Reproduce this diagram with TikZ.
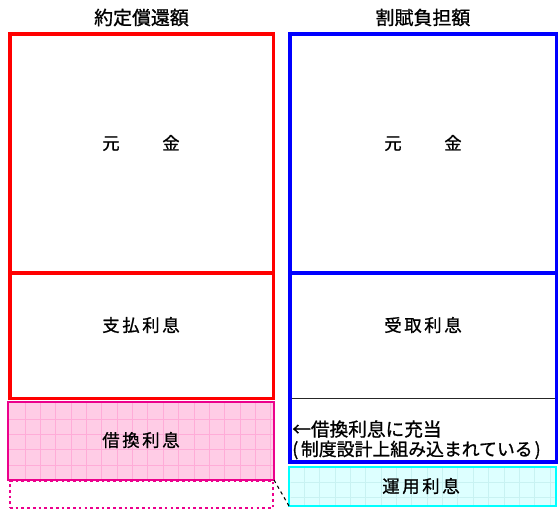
\documentclass[tikz,border=0pt]{standalone}
\usepackage{fontspec}
\setmainfont{Noto Sans CJK JP}[FakeBold=1.0]
\definecolor{pinkfill}{RGB}{255,204,230}
\definecolor{pinkgrid}{RGB}{255,172,216}
\definecolor{cyanfill}{RGB}{221,255,255}
\definecolor{cyangrid}{RGB}{200,242,242}
\definecolor{cyanedge}{RGB}{0,255,255}
\tikzset{
  box/.style={rectangle, inner sep=0pt, outer sep=0pt, anchor=north west},
  redbox/.style={box, draw=red, line width=2.6pt},
  bluebox/.style={box, draw=blue, line width=2.6pt},
  pinkbox/.style={box, draw=magenta, line width=1.8pt, fill=pinkfill},
  cyanbox/.style={box, draw=cyanedge, line width=2.2pt, fill=cyanfill},
  dotbox/.style={box, draw=magenta, line width=2pt, dash pattern=on 2pt off 2.3pt},
  ttl/.style={inner sep=0pt, font=\fontsize{14.2pt}{16pt}\selectfont},
  lbl/.style={inner sep=0pt, font=\fontsize{13pt}{15pt}\selectfont},
  note/.style={inner sep=0pt, anchor=west},
}
\begin{document}
\begin{tikzpicture}[x=0.75pt,y=-0.75pt]
\useasboundingbox (0,0) rectangle (558,510);
% left column
\node[redbox, minimum width=197.6pt, minimum height=179.25pt] (gankinL) at (10,34) {};
\node[redbox, minimum width=197.6pt, minimum height=94.1pt] (shiharai) at (10,273) {};
\node[dotbox, minimum width=197.25pt, minimum height=20.25pt] (dots) at (10,481) {};
\node[pinkbox, minimum width=199.5pt, minimum height=58.5pt] (kari) at (8,402) {};
\begin{scope}
\clip (9.2,403.2) rectangle (272.8,478.8);
\foreach \k in {1,...,17} \draw[pinkgrid, line width=0.55pt] (9.7+15.35*\k,402) -- (9.7+15.35*\k,480);
\foreach \k in {1,...,4} \draw[pinkgrid, line width=0.55pt] (8,403.7+15.3*\k) -- (274,403.7+15.3*\k);
\end{scope}
% right column
\node[bluebox, minimum width=199.9pt, minimum height=179.25pt] (gankinR) at (290,34) {};
\node[bluebox, minimum width=199.9pt, minimum height=141.75pt] (uketori) at (290,273) {};
\coordinate (sepL) at (291.5,398.5);
\coordinate (sepR) at (555,398.5);
\draw[black!85, line width=1.1pt] (sepL) -- (sepR);
\node[cyanbox, minimum width=200.25pt, minimum height=29.25pt] (unyo) at (289,467) {};
\begin{scope}
\clip (290.5,468.5) rectangle (554.5,504.5);
\foreach \k in {1,...,17} \draw[cyangrid, line width=0.55pt] (289+15.35*\k,467) -- (289+15.35*\k,506);
\foreach \k in {1,2} \draw[cyangrid, line width=0.55pt] (289,467+15.3*\k) -- (556,467+15.3*\k);
\end{scope}
\draw[black, line width=0.8pt, dash pattern=on 2.5pt off 2.5pt] (kari.south east) -- (unyo.south west);
% texts
\node[ttl] (t1) at (141.5,17.5) {約定償還額};
\node[ttl] (t2) at (423,17.5) {割賦負担額};
\node[lbl] (g1) at (141,143) {元\hspace*{32pt}金};
\node[lbl] (g2) at (423,143) {元\hspace*{32pt}金};
\node[lbl] (s1) at (141,325) {支\kern2pt 払\kern2pt 利\kern2pt 息};
\node[lbl] (u1) at (423,325) {受\kern2pt 取\kern2pt 利\kern2pt 息};
\node[lbl] (k1) at (141,440) {借\kern2pt 換\kern2pt 利\kern2pt 息};
\node[lbl] (y1) at (421,486) {運\kern2pt 用\kern2pt 利\kern2pt 息};
\node[note, font=\fontsize{14pt}{16pt}\selectfont] (n1) at (292,429) {←借換利息に充当};
\node[note, font=\fontsize{13.4pt}{15pt}\selectfont] (n2) at (292,450) {(\kern2pt 制度設計上組み込まれている\kern1.5pt )};
\end{tikzpicture}
\end{document}
